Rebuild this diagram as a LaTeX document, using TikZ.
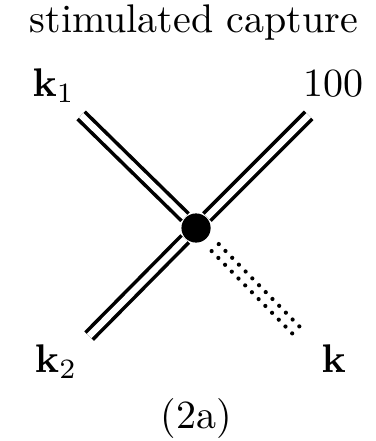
\documentclass[tikz,border=0pt]{standalone}
\usetikzlibrary{positioning}

\begin{document}
\begin{tikzpicture}[
    dressed/.style={draw=black, line width=0.9pt, double=white, double distance=1.6pt},
    soft/.style={line width=1.05pt, line cap=round, dash pattern=on 0pt off 2.4pt, shorten <=3pt},
    vertex/.style={circle, fill=black, inner sep=0pt, minimum size=7.3pt}
]
\useasboundingbox (-1.723,-1.872) rectangle (1.573,2.004);

% title
\node[anchor=base] (title) at (-0.02, 1.72) {stimulated capture};

% the vertex and the free ends
\node[vertex] (v) at (0, 0) {};
\coordinate (inA) at (-1.01, 0.99);
\coordinate (inB) at (0.99, 0.99);
\coordinate (outA) at (-0.94, -0.95);
\coordinate (outB) at (0.92, -0.94);

\draw[dressed] (inA) -- (v);
\draw[dressed] (inB) -- (v);
\draw[dressed] (outA) -- (v);

% soft mode, two rows of dots
\draw[soft, transform canvas={shift={(0.89pt,0.875pt)}}] (v) -- (outB);
\draw[soft, transform canvas={shift={(-0.89pt,-0.875pt)}}] (v) -- (outB);

% labels
\node[anchor=base] (lk1) at (-1.25, 1.16) {$\mathbf{k}_1$};
\node[anchor=base] (l100) at (1.21, 1.16) {100};
\node[anchor=base] (lk2) at (-1.23, -1.27) {$\mathbf{k}_2$};
\node[anchor=base] (lk) at (1.21, -1.27) {$\mathbf{k}$};
\node[anchor=base] (cap) at (0, -1.76) {(2a)};

\end{tikzpicture}
\end{document}
